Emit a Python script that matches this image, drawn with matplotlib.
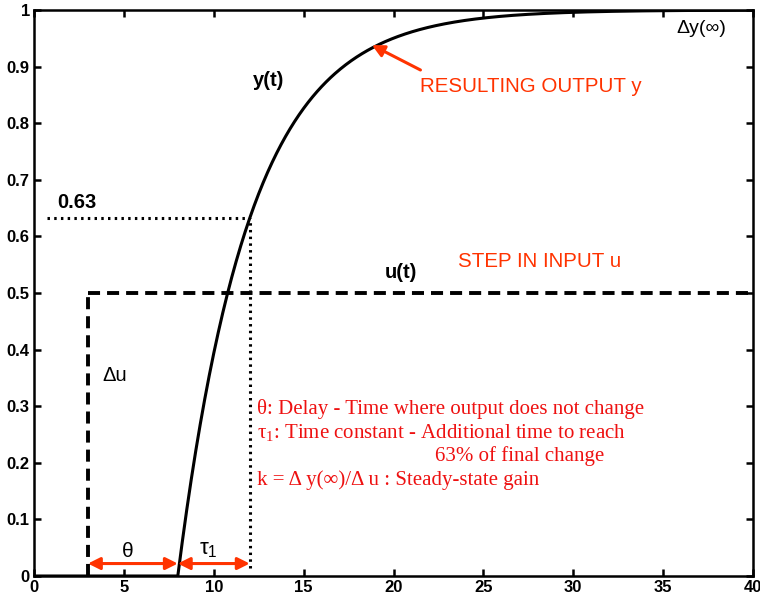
import numpy as np
import matplotlib.pyplot as plt

# step response data (first order plus dead time)
t_step = 3.0        # time of input step
theta = 5.0         # delay
tau1 = 4.0          # time constant
du = 0.5            # step size of u
y_final = 1.0

t = np.linspace(0, 40, 801)
y = np.where(t >= t_step + theta, y_final * (1 - np.exp(-(t - t_step - theta) / tau1)), 0.0)

xticks = [0, 5, 10, 15, 20, 25, 30, 35, 40]
yticks = [0, 0.1, 0.2, 0.3, 0.4, 0.5, 0.6, 0.7, 0.8, 0.9, 1]
ytick_labels = ['0', '0.1', '0.2', '0.3', '0.4', '0.5', '0.6', '0.7', '0.8', '0.9', '1']

red = '#ff3300'
red_serif = '#ee1111'

fig = plt.figure(figsize=(7.6, 6.01), dpi=100)
ax = fig.add_axes([34 / 760, 25 / 601, 719 / 760, 566 / 601])

# input step: vertical jump, then held value
ax.plot([t_step, t_step], [0, du], color='black', lw=2.8, dashes=(3.1, 1.8))
ax.plot([t_step, 40], [du, du], color='black', lw=2.8, dashes=(3.1, 1.8))
ax.plot(t, y, color='black', lw=2.2)

# 63% guide lines
t63 = t_step + theta + tau1
y63 = y_final * (1 - np.exp(-1))
ax.plot([0.75, t63], [y63, y63], color='black', lw=2.2, ls=(0, (0.8, 1.4)))
ax.plot([t63, t63], [0.014, y63], color='black', lw=2.2, ls=(0, (0.8, 1.4)))

# theta and tau1 arrows
arr_y = 0.022
aprops = dict(arrowstyle='<|-|>', color=red, lw=2.2, mutation_scale=18, shrinkA=0, shrinkB=0)
ax.annotate('', xy=(t_step + theta, arr_y), xytext=(t_step, arr_y), arrowprops=aprops)
ax.annotate('', xy=(t63, arr_y), xytext=(t_step + theta, arr_y), arrowprops=aprops)
ax.annotate('', xy=(18.8, 0.938), xytext=(21.5, 0.894),
            arrowprops=dict(arrowstyle='-|>', color=red, lw=2.2, mutation_scale=18, shrinkA=0, shrinkB=0))

sans = 'Liberation Sans'
ax.text(13.05, 0.876, 'y(t)', fontsize=14.5, fontweight='bold', family=sans, ha='center', va='center')
ax.text(2.4, 0.66, '0.63', fontsize=14.5, fontweight='bold', family=sans, ha='center', va='center')
ax.text(20.4, 0.537, 'u(t)', fontsize=14.5, fontweight='bold', family=sans, ha='center', va='center')
ax.text(4.5, 0.355, 'Δu', fontsize=14.5, family=sans, ha='center', va='center')
ax.text(5.2, 0.043, 'θ', fontsize=15, family=sans, ha='center', va='center')
ax.text(9.7, 0.046, r'$\mathregular{\tau_1}$', fontsize=16, family=sans, ha='center', va='center')
ax.text(37.1, 0.968, 'Δy(∞)', fontsize=14, family=sans, ha='center', va='center')
ax.text(21.5, 0.864, 'RESULTING OUTPUT y', fontsize=14.8, color=red, family=sans, ha='left', va='center')
ax.text(23.6, 0.555, 'STEP IN INPUT u', fontsize=14.8, color=red, family=sans, ha='left', va='center')

serif = 'Liberation Serif'
lines = [
    (12.4, 0.295, 'θ: Delay - Time where output does not change'),
    (12.4, 0.253, r'$\mathregular{\tau_1}$: Time constant - Additional time to reach'),
    (22.3, 0.212, '63% of final change'),
    (12.4, 0.170, 'k = Δ y(∞)/Δ u : Steady-state gain'),
]
for x0, y0, s in lines:
    ax.text(x0, y0, s, fontsize=15, color=red_serif, family=serif, ha='left', va='center')

ax.set_xlim(0, 40)
ax.set_ylim(0, 1)
ax.set_xticks(xticks)
ax.set_yticks(yticks)
ax.set_yticklabels(ytick_labels)
ax.tick_params(direction='in', top=True, right=True, length=5, width=1.8, labelsize=12, pad=3)
for lab in ax.get_xticklabels() + ax.get_yticklabels():
    lab.set_fontweight('bold')
    lab.set_family(sans)
for sp in ax.spines.values():
    sp.set_linewidth(1.8)

fig.savefig('out.png', dpi=100)
